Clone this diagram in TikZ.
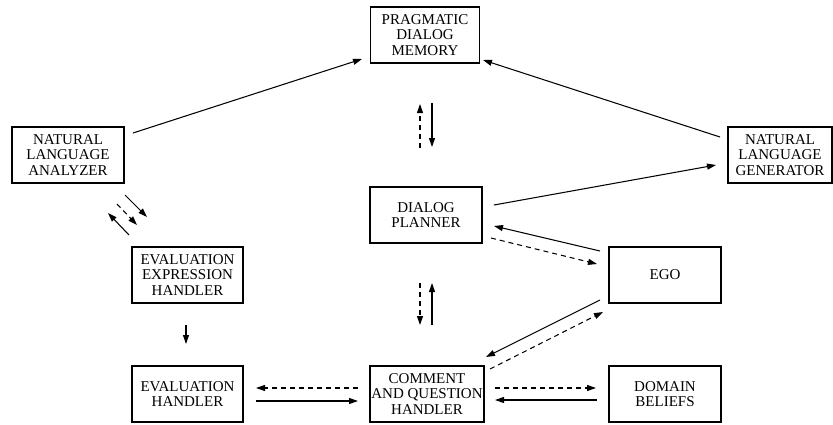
\documentclass[tikz,border=0pt]{standalone}
\usepackage{fontspec}
\setmainfont{Liberation Serif}
\newfontfamily\tnr{Liberation Serif}
\usetikzlibrary{arrows.meta}
\begin{document}
\begin{tikzpicture}[x=1pt,y=-1pt,
  box/.style={draw, line width=1.2pt, minimum height=56pt, inner sep=0pt, align=center,
              font=\tnr\fontsize{15}{15.5}\selectfont},
  sol/.style={line width=1.05pt, -{Triangle[length=9pt,width=6pt]}},
  dsh/.style={sol, dash pattern=on 5pt off 4pt}]
\useasboundingbox (0,0) rectangle (833,424);
% boxes
\node[box, minimum width=109pt] (pdm) at (425,35) {PRAGMATIC\\DIALOG\\MEMORY};
\node[box, minimum width=112pt] (nla) at (68,155) {NATURAL\\LANGUAGE\\ANALYZER};
\node[box, minimum width=104pt] (nlg) at (780,155) {NATURAL\\LANGUAGE\\GENERATOR};
\node[box, minimum width=112pt] (dp) at (426,215) {DIALOG\\PLANNER};
\node[box, minimum width=111pt] (eeh) at (187.5,275) {EVALUATION\\EXPRESSION\\HANDLER};
\node[box, minimum width=112pt] (ego) at (665,275) {EGO};
\node[box, minimum width=111pt] (eh) at (187.5,394) {EVALUATION\\HANDLER};
\node[box, minimum width=114pt] (cqh) at (427,394) {COMMENT\\AND QUESTION\\HANDLER};
\node[box, minimum width=112pt] (db) at (665,394) {DOMAIN\\BELIEFS};
% arrow end points
\coordinate (nlaA) at (133,133);  \coordinate (pdmA) at (362,59);
\coordinate (nlgA) at (720,137);  \coordinate (pdmB) at (483,60);
\coordinate (dpA)  at (494,205);  \coordinate (nlgB) at (716,165);
\coordinate (pdmC) at (420,104);  \coordinate (dpC)  at (420,148);
\coordinate (pdmD) at (432,103);  \coordinate (dpD)  at (432,147);
\coordinate (dpE)  at (420,283);  \coordinate (cqhE) at (420,325);
\coordinate (dpF)  at (432,283);  \coordinate (cqhF) at (432,325);
\coordinate (egoG) at (600,251);  \coordinate (dpG)  at (494,226);
\coordinate (dpH)  at (491,238);  \coordinate (egoH) at (597,264);
\coordinate (egoI) at (600,300);  \coordinate (cqhI) at (486,357);
\coordinate (cqhJ) at (490,369);  \coordinate (egoJ) at (603,312);
\coordinate (cqhK) at (495,388);  \coordinate (dbK)  at (596,388);
\coordinate (dbL)  at (597,400);  \coordinate (cqhL) at (495,400);
\coordinate (cqhM) at (358,388);  \coordinate (ehM)  at (256,388);
\coordinate (ehN)  at (256,401);  \coordinate (cqhN) at (358,401);
\coordinate (eehO) at (186,325);  \coordinate (ehO)  at (186,344);
\coordinate (nlaP) at (125,195);  \coordinate (eehP) at (147,217);
\coordinate (nlaQ) at (117,204);  \coordinate (eehQ) at (137,225);
\coordinate (eehR) at (129,235);  \coordinate (nlaR) at (108,213);
% arrows
\draw[sol] (nlaA) -- (pdmA);
\draw[sol] (nlgA) -- (pdmB);
\draw[sol] (dpA) -- (nlgB);
\draw[dsh] (dpC) -- (pdmC);
\draw[sol] (pdmD) -- (dpD);
\draw[dsh] (dpE) -- (cqhE);
\draw[sol] (cqhF) -- (dpF);
\draw[sol] (egoG) -- (dpG);
\draw[dsh] (dpH) -- (egoH);
\draw[sol] (egoI) -- (cqhI);
\draw[dsh] (cqhJ) -- (egoJ);
\draw[dsh] (cqhK) -- (dbK);
\draw[sol] (dbL) -- (cqhL);
\draw[dsh] (cqhM) -- (ehM);
\draw[sol] (ehN) -- (cqhN);
\draw[sol] (eehO) -- (ehO);
\draw[sol] (nlaP) -- (eehP);
\draw[dsh] (nlaQ) -- (eehQ);
\draw[sol] (eehR) -- (nlaR);
\end{tikzpicture}
\end{document}
